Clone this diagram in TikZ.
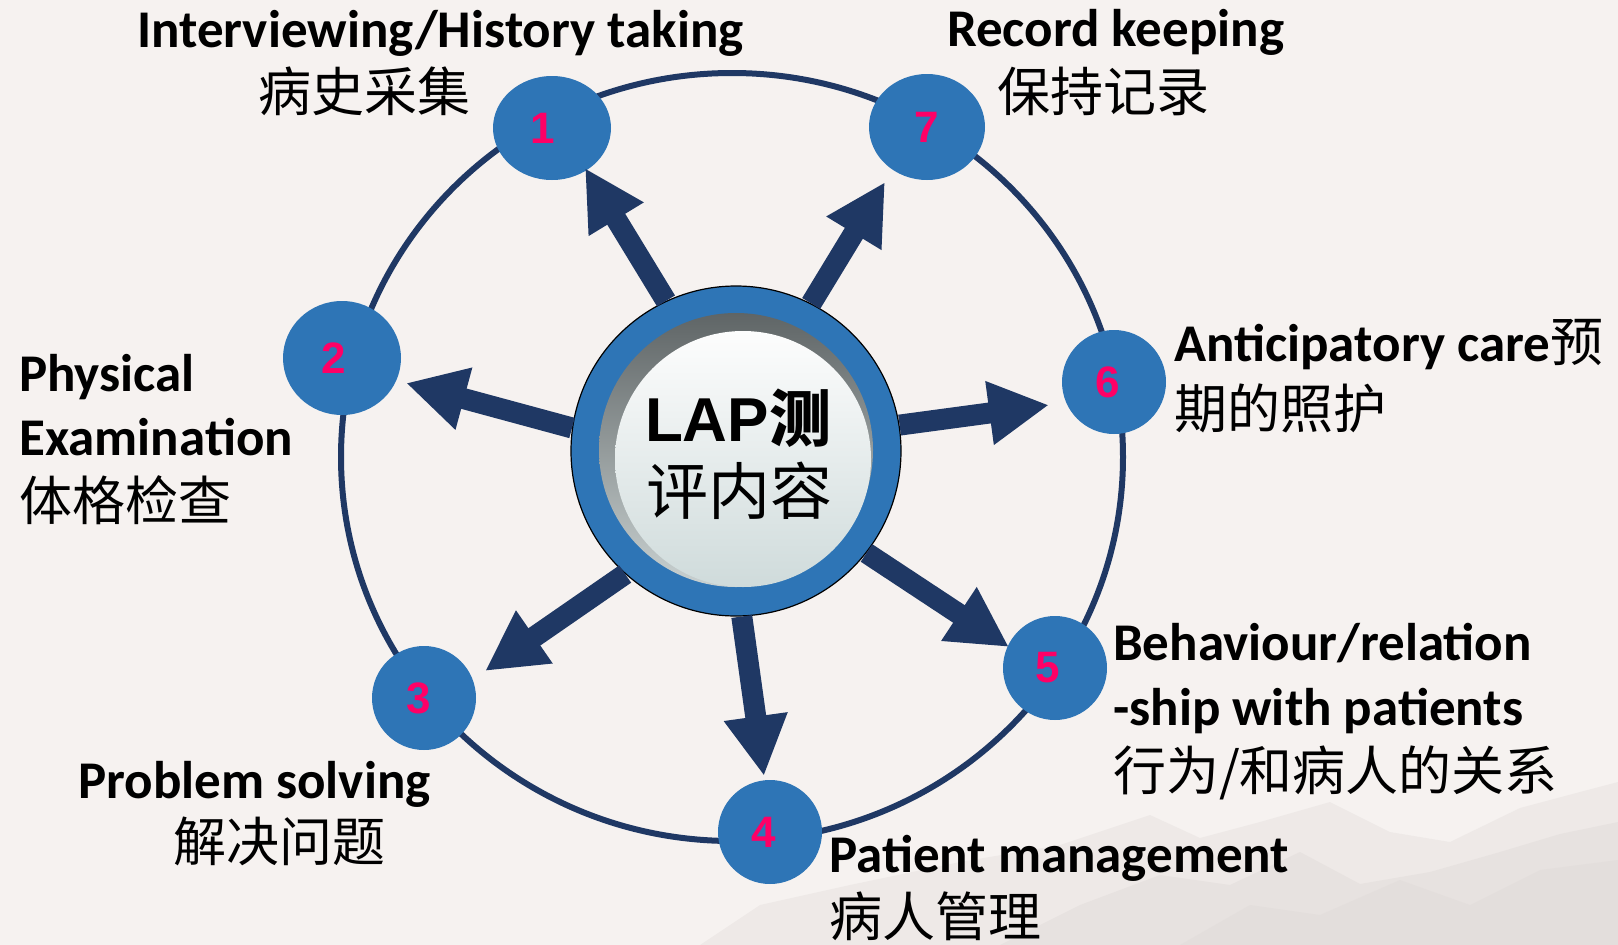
\documentclass[tikz,border=0pt]{standalone}
\usepackage{fontspec}
\setmainfont{Carlito}
\newfontfamily\zh{Noto Sans CJK SC}
\newfontfamily\arl{Liberation Sans}
\usetikzlibrary{shapes.geometric,arrows.meta}
\definecolor{bgc}{HTML}{F6F2F0}
\definecolor{navy}{HTML}{1F3864}
\definecolor{obl}{HTML}{2E75B6}
\definecolor{pinkred}{HTML}{FF0066}
\definecolor{ringtop}{HTML}{5F6566}
\definecolor{ringbot}{HTML}{C9D1D1}
\definecolor{disktop}{HTML}{FDFDFD}
\definecolor{diskbot}{HTML}{CFDBDB}
\definecolor{mtn}{HTML}{DCD6D4}
\tikzset{
  numnode/.style={ellipse, fill=obl, inner sep=0pt, text=pinkred,
    font=\arl\bfseries\fontsize{44}{44}\selectfont},
  lbl/.style={anchor=base west, inner sep=0pt, font=\bfseries\fontsize{53}{64}\selectfont},
  zlbl/.style={anchor=base west, inner sep=0pt, font=\zh\fontsize{53}{64}\selectfont},
  arr/.style={navy, line width=21pt, -{Triangle[length=60pt,width=60pt]}},
}
\begin{document}
\begin{tikzpicture}[x=1pt,y=-1pt]
\useasboundingbox (0,0) rectangle (1618,945);
\fill[bgc] (0,0) rectangle (1618,945);
% faint mountains
\fill[mtn, opacity=0.3] (700,945) -- (760,905) -- (850,885) -- (960,862) -- (1060,845) -- (1150,815) -- (1200,838) -- (1260,822) -- (1330,802) -- (1390,832) -- (1450,842) -- (1520,808) -- (1580,792) -- (1618,782) -- (1618,945) -- cycle;
\fill[mtn, opacity=0.35] (1000,945) -- (1080,905) -- (1160,875) -- (1230,885) -- (1300,852) -- (1360,884) -- (1430,872) -- (1500,852) -- (1560,834) -- (1618,822) -- (1618,945) -- cycle;
\fill[mtn, opacity=0.3] (1180,945) -- (1250,905) -- (1320,915) -- (1400,880) -- (1470,905) -- (1540,870) -- (1618,860) -- (1618,945) -- cycle;
% ring
\draw[navy, line width=6pt] (732,457) ellipse [x radius=391pt, y radius=384pt];
% satellite nodes
\node[numnode, minimum width=118pt, minimum height=104pt] (n1) at (552,128) {\hspace{-18pt}1};
\node[numnode, minimum width=116pt, minimum height=106pt] (n7) at (927,127) {7};
\node[numnode, minimum width=118pt, minimum height=114pt] (n2) at (342,358) {\hspace{-16pt}2};
\node[numnode, minimum width=104pt, minimum height=104pt] (n6) at (1114,382) {\hspace{-12pt}6};
\node[numnode, minimum width=104pt, minimum height=104pt] (n3) at (424,698) {\hspace{-10pt}3};
\node[numnode, minimum width=104pt, minimum height=104pt] (n4) at (770,832) {\hspace{-12pt}4};
\node[numnode, minimum width=104pt, minimum height=104pt] (n5) at (1055,668) {\hspace{-14pt}5};
% center
\node[circle, minimum size=330pt, inner sep=0pt, fill=obl, draw=black, line width=1.2pt] (c) at (736,451) {};
\shade[top color=ringtop, bottom color=ringbot] (736,450) circle[radius=137pt];
\shade[top color=disktop, bottom color=diskbot] (743,459) circle[radius=128pt];
\node[anchor=base, inner sep=0pt, font=\arl\bfseries\fontsize{62}{62}\selectfont] (ct1) at (738,441) {LAP{\zh 测}};
\node[anchor=base, inner sep=0pt, font=\zh\fontsize{62}{62}\selectfont] (ct2) at (739,514) {评内容};
% arrow tips
\coordinate (t1) at (585,168);
\coordinate (t7) at (885,182);
\coordinate (t2) at (406,383);
\coordinate (t6) at (1049,405);
\coordinate (t3) at (485,671);
\coordinate (t4) at (764,776);
\coordinate (t5) at (1009,647);
\draw[arr] (c.115) -- (t1);
\draw[arr] (c.63) -- (t7);
\draw[arr] (c.172) -- (t2);
\draw[arr] (c.9.6) -- (t6);
\draw[arr] (c.228) -- (t3);
\draw[arr] (c.272) -- (t4);
\draw[arr] (c.322) -- (t5);
% labels
\node[lbl] (l1a) at (137,47) {Interviewing/History taking};
\node[zlbl] (l1b) at (258,111) {病史采集};
\node[lbl] (l7a) at (947,46) {Record keeping};
\node[zlbl] (l7b) at (997,111) {保持记录};
\node[lbl] (l2a) at (19,391) {Physical};
\node[lbl] (l2b) at (19,455) {Examination};
\node[zlbl] (l2c) at (19,520) {体格检查};
\node[lbl] (l6a) at (1174,361) {Anticipatory care{\zh\mdseries 预}};
\node[zlbl] (l6b) at (1174,428) {期的照护};
\node[lbl] (l5a) at (1113,660) {Behaviour/relation};
\node[lbl] (l5b) at (1113,725) {-ship with patients};
\node[zlbl] (l5c) at (1113,790) {行为/和病人的关系};
\node[lbl] (l4a) at (829,872) {Patient management};
\node[zlbl] (l4b) at (829,936) {病人管理};
\node[lbl] (l3a) at (78,798) {Problem solving};
\node[zlbl] (l3b) at (173,861) {解决问题};
\end{tikzpicture}
\end{document}
